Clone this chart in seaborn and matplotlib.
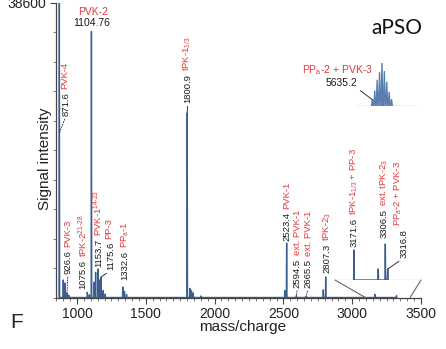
import numpy as np
import pandas as pd
import matplotlib
matplotlib.use("Agg")
import matplotlib.pyplot as plt
import seaborn as sns
from matplotlib.patches import ConnectionPatch

# ---------------- data ----------------
main_mz = [871.6, 900, 912, 926.6, 940, 1075.6, 1090, 1104.76, 1125, 1135, 1153.7,
           1162, 1175.6, 1190, 1205, 1332.6, 1345, 1360, 1800.9, 1820, 1832, 1845,
           1900, 2510, 2523.4, 2594.5, 2665.5, 2790, 2807.3, 3165, 3322]
main_int = [38600, 2300, 1900, 600, 300, 590, 350, 34860, 2000, 3300, 3740,
            2300, 2690, 900, 450, 1380, 800, 400, 24180, 1200, 900, 600,
            200, 900, 7140, 250, 200, 1000, 2690, 400, 250]

zoom_mz = [3171.6, 3276, 3306.5, 3316.8]          # magnified region (bottom right)
zoom_int = [600, 220, 720, 220]
zoom_window = [3095, 3421]                          # region of the main axis that is magnified

iso_mz = [5631.2, 5632.2, 5633.2, 5634.2, 5635.2, 5636.2, 5637.2, 5638.2, 5639.2]
iso_rel = [0.15, 0.35, 0.60, 0.78, 1.00, 0.80, 0.55, 0.32, 0.15]

# peak labels: (m/z, number, red name)
main_labels = [
    (871.6, "871.6", "PVK-4"),
    (926.6, "926.6", "PVK-3"),
    (1075.6, "1075.6", r"tPK-2$^{21\text{-}28}$"),
    (1153.7, "1153.7", r"PVK-1$^{14\text{-}23}$"),
    (1175.6, "1175.6", "PP-3"),
    (1332.6, "1332.6", r"PP$_a$-1"),
    (1800.9, "1800.9", r"tPK-1$_{1/3}$"),
    (2523.4, "2523.4", "PVK-1"),
    (2594.5, "2594.5", "ext. PVK-1"),
    (2665.5, "2665.5", "ext. PVK-1"),
    (2807.3, "2807.3", r"tPK-2$_3$"),
]
zoom_labels = [
    (3171.6, "3171.6", r"tPK-1$_{1/3}$ + PP-3"),
    (3306.5, "3306.5", r"ext. tPK-2$_3$"),
    (3316.8, "3316.8", r"PP$_a$-2 + PVK-3"),
]
top_peak = (1104.76, "1104.76", "PVK-2")
iso_label = ("5635.2", r"PP$_a$-2 + PVK-3")

# ---------------- layout (anchor fraction of peak height, dx px, dy px, leader) ----------------
main_layout = [
    (0.5585, 6.5, 17, ':'),
    (1.0, 1, 19, ':'),
    (1.0, -4.5, 4, '-'),
    (1.0, 0.6, 2, None),
    (1.0, 10, 7, '-'),
    (1.0, 2, 7, None),
    (1.0, 0.5, 10, '-'),
    (1.0, 0.3, 2, None),
    (1.0, 1, 8, ':'),
    (1.0, 2.2, 8, ':'),
    (1.0, 1.5, 4, None),
]
zoom_layout = [
    (1.0, 0, 3, None),
    (1.0, -1.5, 6, None),
    (1.0, 16, 11, '-'),
]

PEAK_COLOR = "#3b5d8f"
RED = "#e23a3a"
TXT = "#1a1a1a"
FS = 6.8

sns.set_style("ticks")
plt.rcParams['font.family'] = ['Liberation Sans', 'DejaVu Sans']
plt.rcParams['mathtext.fontset'] = 'custom'
plt.rcParams['mathtext.rm'] = 'Liberation Sans'
plt.rcParams['mathtext.it'] = 'Liberation Sans:italic'
plt.rcParams['mathtext.bf'] = 'Liberation Sans:bold'
plt.rcParams['mathtext.default'] = 'regular'


def profile(mz, inten, half_width):
    xs, ys = [], []
    for m, h in sorted(zip(mz, inten)):
        xs += [m - half_width, m, m + half_width]
        ys += [0, h, 0]
    return pd.DataFrame({"mz": xs, "intensity": ys})


fig = plt.figure(figsize=(4.46, 3.49), dpi=100)
W, H = 446, 349
ax = fig.add_axes([55.7 / W, 51.5 / H, (421 - 55.7) / W, (297.5 - 3) / H])

sns.lineplot(data=profile(main_mz, main_int, 2.0), x="mz", y="intensity", ax=ax,
             sort=False, estimator=None, color=PEAK_COLOR, lw=1.0)
ax.set_xlim(845, 3500)
ax.set_ylim(0, 38600)
ax.set_xticks([1000, 1500, 2000, 2500, 3000, 3500])
ax.set_xticks(np.arange(850, 3501, 50), minor=True)
ax.set_yticks([38600])
ax.set_yticks(np.arange(0, 38600, 3860), minor=True)
ax.tick_params(axis='both', which='major', labelsize=10, length=4, width=0.8,
               color="#444", labelcolor="#222", pad=3)
ax.tick_params(axis='both', which='minor', length=2, width=0.6, color="#666")
ax.set_xlabel("")
ax.set_ylabel("")
sns.despine(ax=ax)
for s in ("left", "bottom"):
    ax.spines[s].set_color("#444")
    ax.spines[s].set_linewidth(0.9)

ax.text(-0.029, 0.47, "Signal intensity", transform=ax.transAxes, rotation=90,
        ha='center', va='center', fontsize=11, color="#222")
fig.text(243 / W, 1 - 327 / H, "mass/charge", ha='center', va='center', fontsize=11, color="#222")
fig.text(17 / W, 1 - 322 / H, "F", ha='center', va='center', fontsize=15, color="#222")
fig.text(397 / W, 1 - 28 / H, "aPSO", ha='center', va='center', fontsize=15,
         color="#111", family=['Lato', 'DejaVu Sans'])


def rot_label(axis, x, y, num, name, dx, dy, leader):
    kw = {}
    if leader:
        kw['arrowprops'] = dict(arrowstyle='-', color="#333", lw=0.7, ls=leader,
                                shrinkA=0, shrinkB=0, relpos=(0.5, 0))
    t = axis.annotate(num, xy=(x, y), xytext=(dx, dy), textcoords='offset pixels',
                      rotation=90, ha='center', va='bottom', fontsize=FS, color=TXT,
                      annotation_clip=False, **kw)
    axis.annotate(name, xy=(0.5, 1.0), xycoords=t, xytext=(0, 3),
                  textcoords='offset pixels', rotation=90, ha='center', va='bottom',
                  fontsize=FS, color=RED, annotation_clip=False)


peak_height = dict(zip(main_mz, main_int))
for (mz, num, name), (frac, dx, dy, leader) in zip(main_labels, main_layout):
    rot_label(ax, mz, peak_height[mz] * frac, num, name, dx, dy, leader)

# horizontal label of the PVK-2 peak
ax.annotate(top_peak[1], xy=(top_peak[0], peak_height[top_peak[0]]), xytext=(0, 9),
            textcoords='offset pixels', ha='center', va='center', fontsize=7.5, color=TXT)
ax.annotate(top_peak[2], xy=(top_peak[0], peak_height[top_peak[0]]), xytext=(2, 20),
            textcoords='offset pixels', ha='center', va='center', fontsize=7.5, color=RED)

# ---------------- magnified inset (bottom right) ----------------
ins = fig.add_axes([335 / W, (H - 280) / H, 86 / W, 50 / H])
ins.patch.set_alpha(0)
sns.lineplot(data=profile(zoom_mz, zoom_int, 1.5), x="mz", y="intensity", ax=ins,
             sort=False, estimator=None, color=PEAK_COLOR, lw=1.0)
ins.set_xlim(3090, 3460)
ins.set_ylim(0, 1000)
ins.axhline(0, color="#666", lw=0.8)
ins.axis('off')
zoom_height = dict(zip(zoom_mz, zoom_int))
for (mz, num, name), (frac, dx, dy, leader) in zip(zoom_labels, zoom_layout):
    rot_label(ins, mz, zoom_height[mz] * frac, num, name, dx, dy, leader)
for xi, xm in zip(ins.get_xlim(), zoom_window):
    cp = ConnectionPatch(xyA=(xi, 0), coordsA=ins.transData, xyB=(xm, 0), coordsB=ax.transData,
                         color="#666", lw=0.8)
    fig.add_artist(cp)

# ---------------- isotope cluster inset (top right) ----------------
iso = fig.add_axes([357 / W, (H - 106) / H, 60 / W, 43 / H])
iso.patch.set_alpha(0)
sns.lineplot(data=profile(iso_mz, iso_rel, 0.35), x="mz", y="intensity", ax=iso,
             sort=False, estimator=None, color="#5a7db0", lw=1.0)
iso.set_xlim(5624.8, 5649.8)
iso.set_ylim(0, 1.0)
iso.axhline(0, color="#7f95b8", lw=1.0, ls=(0, (2, 1)))
iso.axis('off')
anchor = (iso_mz[0] + 0.3, iso_rel[0] * 0.9)
iso.annotate(iso_label[0], xy=anchor, xytext=(-16, 17), textcoords='offset pixels',
             ha='right', va='center', fontsize=7.5, color=TXT, annotation_clip=False,
             arrowprops=dict(arrowstyle='-', color="#333", lw=0.7, shrinkA=0, shrinkB=0,
                             relpos=(1, 0)))
iso.annotate(iso_label[1], xy=anchor, xytext=(0, 30), textcoords='offset pixels',
             ha='right', va='center', fontsize=7.5, color=RED, annotation_clip=False)

fig.savefig("out.png", dpi=100)
